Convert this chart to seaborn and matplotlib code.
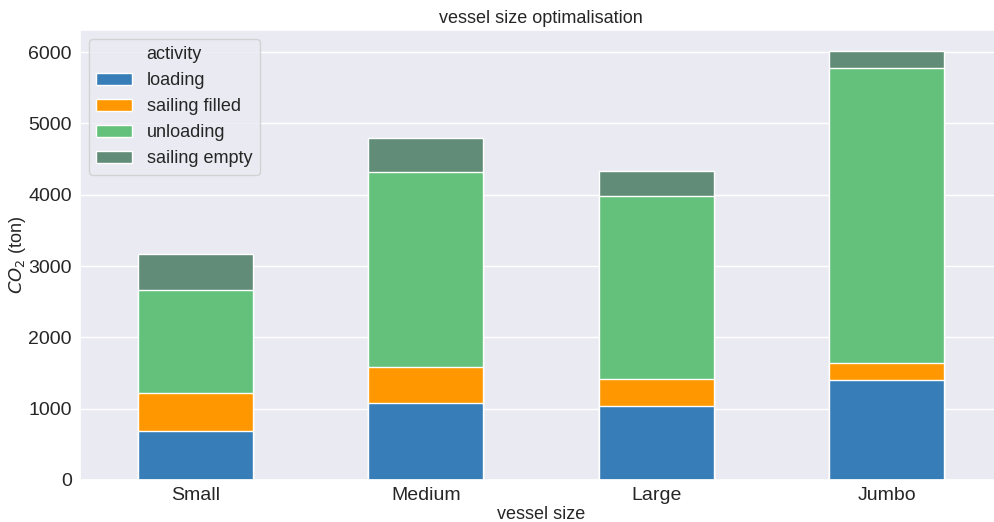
import numpy as np
import pandas as pd
import matplotlib
matplotlib.use("Agg")
import matplotlib.pyplot as plt
import seaborn as sns

# CO2 emissions (ton) per activity for each vessel size
vessel_sizes = ["Small", "Medium", "Large", "Jumbo"]
activities = ["loading", "sailing filled", "unloading", "sailing empty"]
loading = [690, 1085, 1042, 1397]
sailing_filled = [530, 495, 370, 240]
unloading = [1440, 2745, 2575, 4135]
sailing_empty = [505, 470, 345, 237]
colors = ["#377eb8", "#ff9800", "#64c17b", "#608c78"]

sns.set_theme(style="darkgrid")
plt.rcParams["font.family"] = ["Liberation Sans", "DejaVu Sans"]

df = pd.DataFrame(
    {"loading": loading, "sailing filled": sailing_filled,
     "unloading": unloading, "sailing empty": sailing_empty},
    index=pd.Index(vessel_sizes, name="vessel size"),
)
cum = df.cumsum(axis=1).reset_index()

fig = plt.figure(figsize=(9.94, 5.22), dpi=100)
ax = fig.add_axes([80 / 994, 42 / 522, 922 / 994, 450 / 522])

# stacked bars: draw cumulative totals from the top layer down
for act, col in reversed(list(zip(activities, colors))):
    sns.barplot(data=cum, x="vessel size", y=act, color=col, width=0.5,
                edgecolor="white", linewidth=1, saturation=1, label=act, ax=ax)

ax.set_xlim(-0.5, 3.5)
ax.set_yticks(range(0, 7000, 1000))
ax.tick_params(axis="x", labelsize=14, pad=5, length=0)
ax.tick_params(axis="y", labelsize=14, pad=6, length=0)
ax.set_title("vessel size optimalisation", fontsize=13, pad=5)
ax.set_xlabel("vessel size", fontsize=13, labelpad=1.5)
ax.set_ylabel(r"$CO_2$ (ton)", fontsize=13, labelpad=0)

handles, labels = ax.get_legend_handles_labels()
order = [labels.index(a) for a in activities]
ax.legend([handles[i] for i in order], [labels[i] for i in order],
          title="activity", fontsize=13, title_fontsize=13, loc="upper left")

fig.savefig("out.png", dpi=100)
